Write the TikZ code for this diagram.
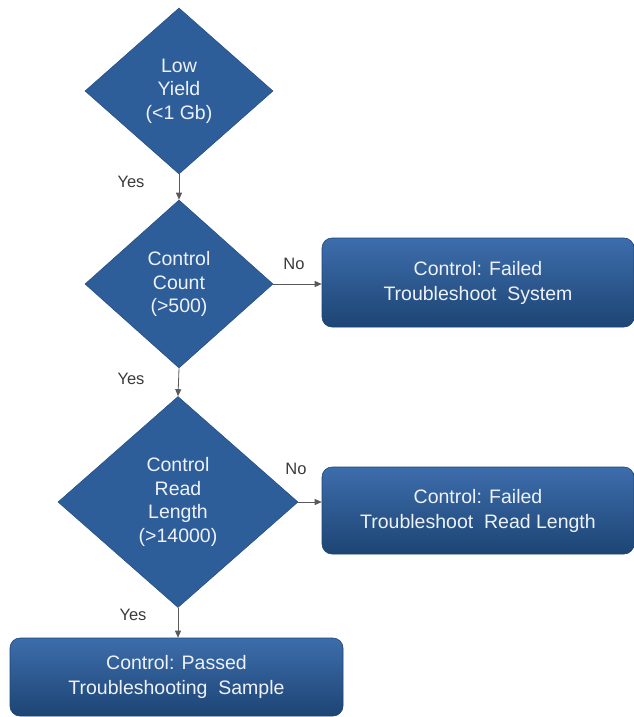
\documentclass[tikz,border=0pt]{standalone}
\usepackage{fontspec}
\setmainfont{Liberation Sans}
\usetikzlibrary{shapes.geometric,arrows.meta}
\definecolor{dfill}{HTML}{2E5E9A}
\definecolor{dedge}{HTML}{274F82}
\definecolor{btop}{HTML}{3D6DAC}
\definecolor{bbot}{HTML}{1D4574}
\definecolor{txt}{HTML}{EEF2F8}
\definecolor{lbl}{HTML}{3A3A3A}
\definecolor{arr}{HTML}{5A5A5A}
\tikzset{
  dec/.style={shape=diamond, fill=dfill, draw=dedge, line width=0.6pt, inner sep=0pt,
    text=txt, align=center, font=\fontsize{19.5}{23.5}\selectfont},
  res/.style={rectangle, rounded corners=10pt, top color=btop, bottom color=bbot,
    draw=bbot, line width=0.6pt, inner sep=0pt, text=txt, align=center,
    font=\fontsize{19.5}{25}\selectfont},
  conn/.style={draw=arr, line width=0.8pt, -{Triangle[length=7pt,width=6pt]}},
  lab/.style={text=lbl, font=\fontsize{16.5}{18}\selectfont, inner sep=0pt}
}
\begin{document}
\begin{tikzpicture}[x=1pt,y=-1pt]
\useasboundingbox (0,0) rectangle (634,717);
\node[dec, minimum width=188pt, minimum height=166pt] (d1) at (179,91) {Low\\Yield\\(<1 Gb)};
\node[dec, minimum width=188pt, minimum height=168pt] (d2) at (179,284) {Control\\Count\\(>500)};
\node[dec, minimum width=240pt, minimum height=211pt] (d3) at (178,502) {Control\\Read\\Length\\(>14000)};
\node[res, minimum width=312pt, minimum height=89pt] (b1) at (478,282.5) {Control: Failed\\Troubleshoot\ \ System};
\node[res, minimum width=312pt, minimum height=87pt] (b2) at (478,510.5) {Control: Failed\\Troubleshoot\ \ Read Length};
\node[res, minimum width=333pt, minimum height=78pt] (b3) at (176.5,677) {Control: Passed\\Troubleshooting\ \ Sample};
\draw[conn] (d1.south) -- (d2.north);
\draw[conn] (d2.south) -- (d3.north);
\draw[conn] (d3.south) -- (d3.south |- b3.north);
\draw[conn] (d2.east) -- (d2.east -| b1.west);
\draw[conn] (d3.east) -- (d3.east -| b2.west);
\node[lab] (y1) at (131,182) {Yes};
\node[lab] (y2) at (131,379) {Yes};
\node[lab] (y3) at (133,615) {Yes};
\node[lab] (n1) at (294,264) {No};
\node[lab] (n2) at (296,469) {No};
\end{tikzpicture}
\end{document}
